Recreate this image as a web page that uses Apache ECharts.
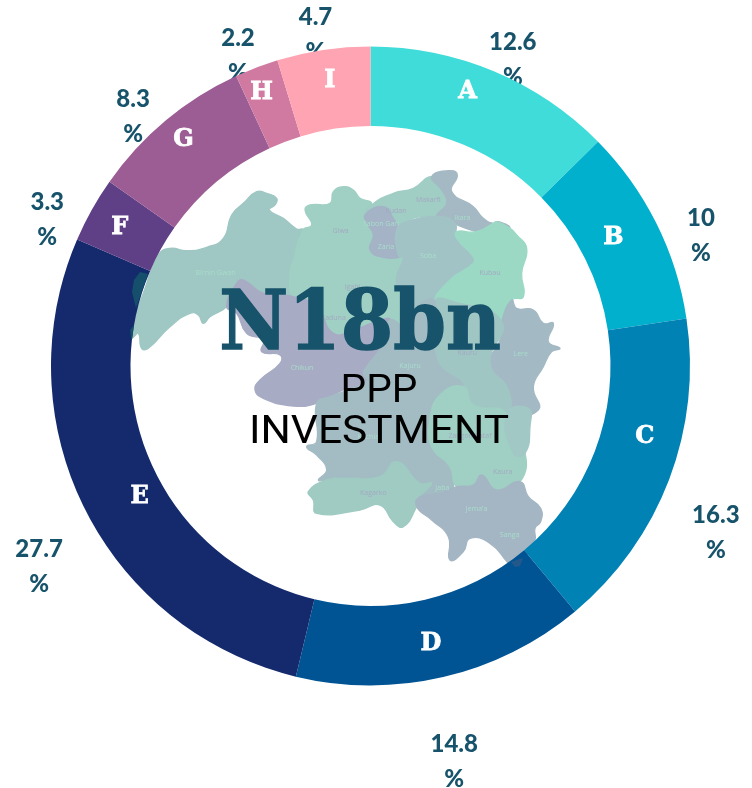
<!DOCTYPE html>
<html>
<head>
<meta charset="utf-8">
<title>PPP Investment</title>
<script src="https://cdn.jsdelivr.net/npm/echarts@6/dist/echarts.min.js"></script>
<style>
  html, body { margin: 0; padding: 0; background: #fff; }
  #chart { width: 752px; height: 788px; }
</style>
</head>
<body>
<div id="chart"></div>
<script>
const categories = ['A', 'B', 'C', 'D', 'E', 'F', 'G', 'H', 'I']
const shares = [12.6, 10, 16.3, 14.8, 27.7, 3.3, 8.3, 2.2, 4.7]
const colors = ['#40dcd9', '#00b0cd', '#0082b5', '#005494', '#142a6d', '#5f3f85', '#9c5c94', '#d17aa1', '#ffa4b2']
// the letters do not sit on the middle of the slice in the original
const letterOffsets = [[-12, -13], [-10, -2], [10, -30], [-4, 2], [22, 4], [-4, 0], [-6, -9], [-8, -9], [1, -6]]

// map backdrop, traced in a 3x space and scaled down by the group below
const mapRegions = [
  ['#9fc7c3', [30,520, 40,480, 70,400, 115,285, 150,265, 200,272, 260,262, 310,235, 335,165, 370,130, 410,95, 440,100, 470,115, 465,135, 448,150, 490,175, 530,207, 548,210, 520,300, 510,340, 520,410, 505,410, 430,400, 370,360, 345,390, 320,440, 270,470, 250,490, 235,465, 210,460, 150,500, 85,565, 65,565, 55,520, 35,535]],
  ['#9fd0c3', [548,210, 575,195, 555,150, 570,135, 630,130, 640,95, 670,80, 700,90, 720,115, 755,130, 735,165, 745,195, 760,230, 750,265, 790,285, 850,295, 835,350, 840,390, 880,420, 890,440, 860,500, 800,475, 700,510, 640,520, 590,440, 520,410, 510,340, 520,300]],
  ['#a7abc3', [350,370, 370,360, 430,400, 520,410, 590,440, 640,520, 700,510, 800,475, 815,490, 790,550, 740,620, 730,640, 740,665, 670,690, 630,710, 590,730, 520,738, 430,715, 405,690, 420,660, 480,610, 480,585, 425,575, 430,540, 380,520, 350,460, 320,440]],
  ['#a0cdc4', [755,135, 820,100, 880,85, 935,50, 965,90, 980,130, 960,165, 900,170, 860,185, 830,210, 800,175, 735,170]],
  ['#a4b9c4', [935,50, 990,32, 1012,45, 995,95, 1060,140, 1090,175, 1120,190, 1135,185, 1170,205, 1130,222, 1070,215, 1000,190, 950,170, 980,130, 965,90]],
  ['#a4b3c6', [735,165, 790,140, 820,175, 835,210, 830,270, 840,290, 790,292, 750,270, 760,225, 745,195]],
  ['#a2c3c6', [830,210, 860,185, 960,170, 1005,190, 1010,235, 1060,290, 1060,310, 990,360, 945,420, 890,440, 840,390, 830,350, 850,295, 835,285]],
  ['#9bd9c5', [1010,215, 1070,215, 1120,190, 1130,185, 1170,205, 1190,225, 1220,265, 1205,340, 1210,410, 1175,420, 1145,485, 1060,450, 1000,425, 945,425, 990,360, 1060,310, 1060,290, 1010,235]],
  ['#a3b9c4', [1145,485, 1175,420, 1190,445, 1240,450, 1270,490, 1300,490, 1285,545, 1320,565, 1295,575, 1270,620, 1240,680, 1255,750, 1160,760, 1165,690, 1110,610, 1140,540]],
  ['#a0c6c4', [945,425, 1000,425, 1145,485, 1110,610, 1165,690, 1160,760, 1060,735, 1030,680, 950,600]],
  ['#a3bcc4', [810,480, 860,500, 890,440, 945,425, 950,600, 1030,680, 960,705, 930,780, 935,860, 990,920, 1000,980, 960,1000, 900,1010, 830,905, 780,950, 620,960, 595,960, 620,930, 590,885, 560,860, 590,845, 590,730, 630,710, 740,665, 730,640, 740,620, 790,550]],
  ['#9fd0c3', [960,705, 1030,680, 1060,735, 1160,760, 1180,880, 1215,880, 1200,965, 1130,990, 1085,945, 1060,975, 1010,980, 990,920, 935,860, 930,780]],
  ['#a2c8c6', [1160,760, 1225,745, 1230,800, 1215,880, 1180,880]],
  ['#9fcbc2', [565,995, 620,960, 680,955, 780,950, 830,905, 900,970, 935,970, 900,1010, 890,1040, 850,1100, 820,1085, 780,1035, 720,1050, 590,1060, 580,1020]],
  ['#a4b6c4', [900,1010, 960,1000, 1010,980, 1060,975, 1085,945, 1130,990, 1200,965, 1225,1010, 1262,1045, 1262,1085, 1245,1105, 1245,1140, 1220,1185, 1180,1225, 1165,1210, 1110,1150, 1050,1135, 1030,1175, 990,1200, 985,1130, 935,1080, 890,1040]]
]
const mapNames = [
  ['Birnin Gwari', 287, 340, '#a8dccb'], ['Giwa', 662, 214, '#a3a9c2'], ['Makarfi', 925, 119, '#a3a9c2'],
  ['Kudan', 828, 152, '#a3a9c2'], ['Ikara', 1027, 175, '#a8dccb'], ['Sabon Gari', 783, 193, '#a8dccb'],
  ['Zaria', 798, 262, '#a8dccb'], ['Soba', 924, 288, '#a8dccb'], ['Kubau', 1110, 340, '#a3a9c2'],
  ['Igabi', 698, 381, '#a3a9c2'], ['Kaduna', 640, 473, '#a3a9c2'], ['Chikun', 546, 625, '#a8dccb'],
  ['Kajuru', 870, 619, '#a8dccb'], ['Kauru', 1042, 580, '#a3a9c2'], ['Lere', 1202, 583, '#a8dccb'],
  ['Kachia', 745, 830, '#a8dccb'], ['Zangon Kataf', 1050, 829, '#a3a9c2'], ['Kaura', 1148, 937, '#a3a9c2'],
  ['Kagarko', 760, 998, '#a3a9c2'], ['Jaba', 967, 984, '#a8dccb'], ["Jema'a", 1070, 1047, '#a8dccb'],
  ['Sanga', 1169, 1124, '#a8dccb']
]

const mapChildren = mapRegions.map((region) => {
  const points = []
  for (let i = 0; i < region[1].length; i += 2) {
    points.push([region[1][i], region[1][i + 1]])
  }
  return {
    type: 'polygon',
    shape: { points: points, smooth: 0.5 },
    style: { fill: region[0], stroke: region[0], lineWidth: 4 }
  }
}).concat(mapNames.map((name) => {
  return {
    type: 'text',
    x: name[1],
    y: name[2],
    style: {
      text: name[0],
      fill: name[3],
      font: '21px "Open Sans"',
      textAlign: 'center',
      textVerticalAlign: 'middle'
    }
  }
}))

const chart = echarts.init(document.getElementById('chart'))
chart.setOption({
  animation: false,
  graphic: [
    { type: 'group', x: 120, y: 160, scaleX: 1 / 3, scaleY: 1 / 3, z: 0, children: mapChildren },
    // bits of the map that show on top of the ring
    {
      type: 'polygon',
      z: 3,
      shape: { points: [[148, 274], [140, 272], [134, 280], [132, 292], [134, 300], [136, 308]] },
      style: { fill: '#154f6b' }
    },
    {
      type: 'polygon',
      z: 3,
      shape: { points: [[134, 325], [130, 330], [131, 338], [132, 340]] },
      style: { fill: '#154f6b' }
    },
    {
      type: 'polygon',
      z: 3,
      shape: { points: [[511, 562], [515, 567], [520, 566], [523, 558]] },
      style: { fill: '#25588a' }
    },
    {
      type: 'text',
      z: 5,
      x: 360,
      y: 328,
      scaleX: 0.92,
      style: {
        text: 'N18bn',
        fill: '#17536a',
        stroke: '#17536a',
        lineWidth: 1.5,
        font: 'bold 82px "DejaVu Serif"',
        textAlign: 'center',
        textVerticalAlign: 'middle'
      }
    },
    {
      type: 'text',
      z: 5,
      x: 379,
      y: 392,
      scaleX: 1.04,
      style: {
        text: 'PPP',
        fill: '#000',
        font: '39px Roboto',
        textAlign: 'center',
        textVerticalAlign: 'middle'
      }
    },
    {
      type: 'text',
      z: 5,
      x: 379,
      y: 433,
      scaleX: 1.09,
      style: {
        text: 'INVESTMENT',
        fill: '#000',
        font: '39px Roboto',
        textAlign: 'center',
        textVerticalAlign: 'middle'
      }
    }
  ],
  series: [
    // invisible pie that only carries the value labels, they go under the ring
    {
      type: 'pie',
      z: 1,
      silent: true,
      clockwise: true,
      startAngle: 90,
      center: [370, 401],
      radius: [365, 369],
      avoidLabelOverlap: false,
      labelLayout: { hideOverlap: false },
      itemStyle: { color: 'transparent' },
      label: {
        position: 'inside',
        formatter: '{c}\n%',
        color: '#17536a',
        fontFamily: 'Lato',
        fontWeight: 900,
        fontSize: 24,
        lineHeight: 35
      },
      labelLine: { show: false },
      emphasis: { disabled: true },
      data: categories.map((name, i) => {
        return { name: name, value: shares[i] }
      })
    },
    {
      type: 'pie',
      z: 2,
      silent: true,
      clockwise: true,
      startAngle: 90,
      center: [370.5, 366],
      radius: [240, 319.5],
      avoidLabelOverlap: false,
      labelLayout: { hideOverlap: false },
      label: {
        position: 'inside',
        formatter: '{b}',
        color: '#fff',
        textBorderColor: '#fff',
        textBorderWidth: 0.8,
        fontFamily: 'DejaVu Serif',
        fontWeight: 'bold',
        fontSize: 24
      },
      labelLine: { show: false },
      emphasis: { disabled: true },
      data: categories.map((name, i) => {
        return {
          name: name,
          value: shares[i],
          itemStyle: { color: colors[i] },
          label: { offset: letterOffsets[i] }
        }
      })
    }
  ]
})
</script>
</body>
</html>
